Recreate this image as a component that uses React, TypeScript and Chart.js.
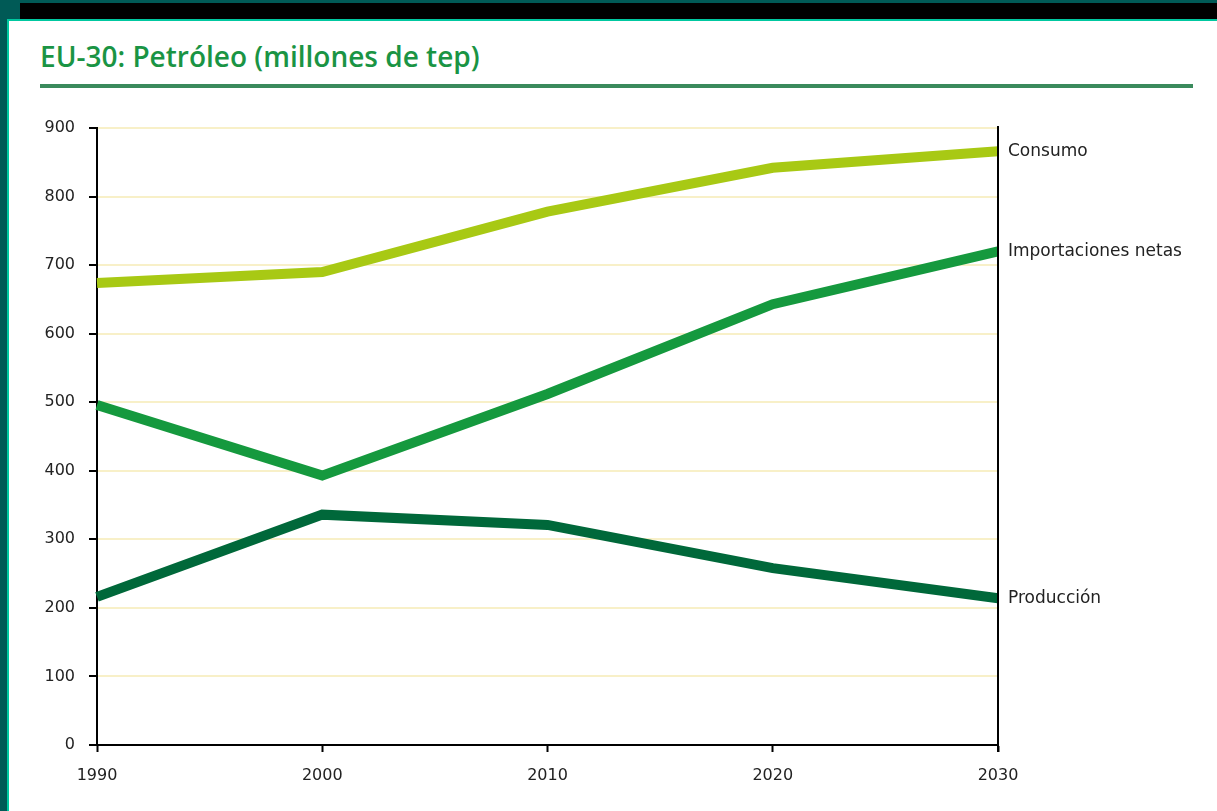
import React, { useEffect, useRef } from "react";
import { Chart, registerables } from "chart.js";

Chart.register(...registerables);

const years = ["1990", "2000", "2010", "2020", "2030"];
const consumo = [674, 690, 778, 842, 866];
const importaciones = [496, 393, 512, 643, 720];
const produccion = [216, 336, 321, 258, 214];
const seriesNames = ["Consumo", "Importaciones netas", "Producción"];
const seriesColors = ["#a8c914", "#15993e", "#00683a"];
const yTicks = [0, 100, 200, 300, 400, 500, 600, 700, 800, 900];

const endLabels = {
  id: "endLabels",
  afterDatasetsDraw(chart: any) {
    const { ctx, chartArea } = chart;
    ctx.save();
    ctx.strokeStyle = "#000";
    ctx.lineWidth = 2;
    ctx.beginPath();
    ctx.moveTo(chartArea.right, chartArea.top - 2);
    ctx.lineTo(chartArea.right, chartArea.bottom + 7);
    ctx.stroke();
    ctx.fillStyle = "#222";
    ctx.font = "17px 'DejaVu Sans', sans-serif";
    ctx.textAlign = "left";
    ctx.textBaseline = "middle";
    chart.data.datasets.forEach((ds: any, i: number) => {
      const meta = chart.getDatasetMeta(i);
      const pt = meta.data[meta.data.length - 1];
      ctx.fillText(ds.label, chartArea.right + 10, pt.y);
    });
    ctx.restore();
  },
};

export default function App() {
  const ref = useRef<HTMLCanvasElement>(null);
  useEffect(() => {
    document.body.style.margin = "0";
    const data = [consumo, importaciones, produccion];
    const tickFont = { family: "'DejaVu Sans', sans-serif", size: 16 };
    const chart = new Chart(ref.current!, {
      type: "line",
      data: {
        labels: years,
        datasets: data.map((d, i) => ({
          label: seriesNames[i],
          data: d,
          borderColor: seriesColors[i],
          backgroundColor: seriesColors[i],
          borderWidth: 10,
          pointRadius: 0,
          tension: 0,
          borderJoinStyle: "miter" as const,
        })),
      },
      options: {
        animation: false,
        responsive: false,
        maintainAspectRatio: false,
        layout: { padding: { left: 40, right: 219, top: 128, bottom: 22 } },
        plugins: { legend: { display: false }, tooltip: { enabled: false }, title: { display: false } },
        scales: {
          x: {
            type: "category",
            offset: false,
            border: { color: "#000", width: 2 },
            grid: { drawOnChartArea: false, drawTicks: true, tickLength: 7, tickColor: "#000", tickWidth: 2 },
            ticks: { color: "#222", font: tickFont, padding: 14, maxRotation: 0 },
            afterFit: (s: any) => { s.height = 44; },
          },
          y: {
            min: 0,
            max: 900,
            afterBuildTicks: (s: any) => { s.ticks = yTicks.map((v) => ({ value: v })); },
            border: { color: "#000", width: 2 },
            grid: { color: "#f8f0c8", lineWidth: 2, tickColor: "#000", tickLength: 8, tickWidth: 2 },
            ticks: { color: "#222", font: tickFont, padding: 14 },
            afterFit: (s: any) => { s.width = 57; },
          },
        },
      },
      plugins: [endLabels],
    });
    return () => chart.destroy();
  }, []);

  return (
    <div style={{ position: "fixed", left: 0, top: 0, width: 1217, height: 811, background: "#fff", overflow: "hidden" }}>
      <div style={{ position: "absolute", left: 0, top: 0, width: 1217, height: 3, background: "#005a56" }} />
      <div style={{ position: "absolute", left: 0, top: 0, width: 20, height: 20, background: "#005a56" }} />
      <div style={{ position: "absolute", left: 20, top: 3, width: 1197, height: 16, background: "#000" }} />
      <div style={{ position: "absolute", left: 0, top: 0, width: 7, height: 811, background: "#005a56" }} />
      <div style={{ position: "absolute", left: 7, top: 19, width: 1210, height: 2, background: "#00c8a0" }} />
      <div style={{ position: "absolute", left: 7, top: 19, width: 2, height: 792, background: "#00c8a0" }} />
      <div
        style={{
          position: "absolute",
          left: 40,
          top: 37,
          fontFamily: "'Open Sans', sans-serif",
          fontWeight: 600,
          fontSize: 28,
          lineHeight: "normal",
          color: "#1a9444",
          whiteSpace: "nowrap",
        }}
      >
        EU-30: Petróleo (millones de tep)
      </div>
      <div style={{ position: "absolute", left: 40, top: 84, width: 1153, height: 4, background: "#3a8a5c" }} />
      <canvas ref={ref} width={1217} height={811} style={{ position: "absolute", left: 0, top: 0 }} />
    </div>
  );
}
